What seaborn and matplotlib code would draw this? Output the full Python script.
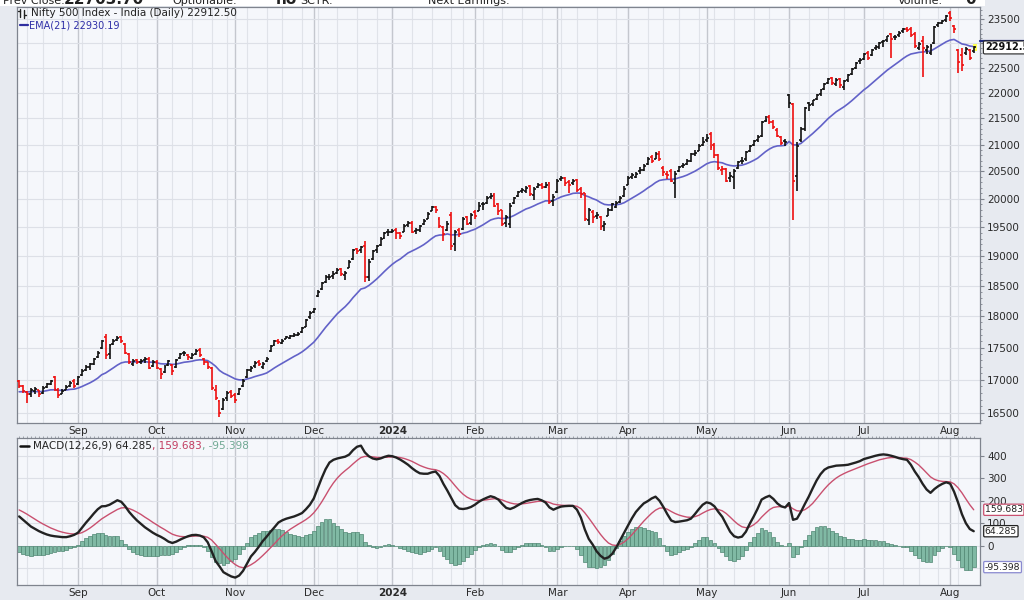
import numpy as np
import pandas as pd
import matplotlib
matplotlib.use("Agg")
import matplotlib.pyplot as plt
import matplotlib.transforms as mtransforms
from matplotlib.patches import Rectangle
from matplotlib.lines import Line2D
from matplotlib.ticker import FixedLocator, NullFormatter, FixedFormatter
import seaborn as sns

# ---------------- data ----------------
holidays = ["2023-08-15", "2023-09-19", "2023-10-02", "2023-10-24", "2023-11-14",
            "2023-11-27", "2023-12-25", "2024-01-22", "2024-01-26", "2024-03-08",
            "2024-03-25", "2024-03-29", "2024-04-11", "2024-04-17", "2024-05-01",
            "2024-05-20", "2024-06-17", "2024-07-17"]

opens = [
16990,16910,16820,16780,16830,16840,16800,16890,16940,17040,
16850,16790,16850,16900,16980,16940,17070,17150,17200,17250,
17350,17500,17660,17400,17560,17620,17660,17560,17400,17250,
17300,17280,17300,17330,17220,17280,17170,17120,17230,17230,
17200,17340,17410,17380,17340,17400,17470,17320,17270,17190,
16850,16680,16560,16720,16820,16770,16780,16900,17040,17150,
17210,17280,17200,17290,17440,17540,17610,17580,17640,17650,
17690,17700,17740,17830,17980,18070,18330,18450,18570,18640,
18660,18720,18780,18680,18800,18950,19120,19100,19180,18650,
18950,19100,19190,19310,19420,19420,19450,19400,19420,19540,
19580,19430,19450,19550,19650,19790,19860,19650,19500,19450,
19720,19200,19450,19460,19680,19570,19760,19790,19900,19930,
20040,20070,19900,19800,19580,19560,19920,20050,20150,20150,
20230,20070,20210,20260,20220,20280,19960,20120,20360,20380,
20300,20280,20340,20180,20100,19620,19760,19700,19680,19520,
19700,19810,19850,19940,20050,20260,20400,20400,20500,20530,
20640,20760,20730,20830,20560,20460,20500,20280,20500,20600,
20640,20700,20830,20880,21000,21080,21200,21000,20800,20520,
20550,20380,20400,20560,20700,20720,20880,21000,21080,21170,
21440,21530,21430,21280,21150,21060,21950,21780,20420,21080,
21300,21800,21780,21880,21980,22080,22200,22300,22180,22280,
22120,22250,22380,22500,22640,22680,22800,22760,22900,22930,
23020,23060,23200,23120,23170,23260,23300,23300,23200,22900,
23050,22850,22800,23000,23380,23430,23480,23640,23350,22850,
22760,22800,22860,22840]

highs = [
17005,16930,16830,16870,16890,16850,16900,16960,17000,17060,
16880,16860,16920,16980,17010,17060,17160,17230,17260,17340,
17440,17620,17720,17560,17640,17680,17680,17570,17420,17320,
17330,17320,17350,17350,17300,17300,17190,17230,17310,17240,
17320,17420,17440,17400,17410,17480,17490,17340,17280,17200,
16920,16700,16720,16830,16850,16800,16880,17010,17170,17210,
17290,17300,17270,17350,17540,17620,17640,17630,17690,17700,
17730,17740,17830,17960,18090,18140,18430,18570,18680,18700,
18740,18790,18800,18740,18930,19120,19140,19180,19260,18950,
19100,19190,19320,19420,19460,19470,19480,19420,19550,19610,
19600,19480,19540,19640,19760,19880,19880,19670,19520,19600,
19760,19450,19490,19680,19700,19750,19800,19950,19950,20050,
20110,20100,19920,19810,19720,19920,20040,20150,20200,20230,
20260,20210,20290,20290,20300,20310,20080,20360,20420,20400,
20340,20360,20360,20220,20110,19830,19800,19760,19690,19600,
19830,19930,19960,20060,20230,20420,20470,20480,20580,20640,
20760,20800,20860,20870,20600,20500,20540,20500,20600,20660,
20730,20850,20900,21010,21150,21200,21240,21030,20820,20600,
20560,20480,20540,20700,20760,20880,21000,21090,21180,21450,
21540,21560,21460,21310,21170,21110,21970,21800,21050,21330,
21720,21820,21860,21980,22080,22190,22300,22320,22290,22300,
22250,22380,22500,22620,22700,22800,22830,22880,22960,23020,
23060,23150,23220,23180,23250,23320,23330,23330,23230,23020,
23150,22960,22980,23350,23450,23490,23580,23680,23380,22880,
22900,22930,22890,22950]

lows = [
16870,16800,16650,16740,16790,16740,16790,16880,16920,16830,
16720,16780,16840,16890,16880,16920,17060,17130,17150,17230,
17340,17480,17330,17330,17540,17600,17570,17400,17250,17220,
17240,17250,17260,17170,17200,17160,17010,17110,17210,17080,
17190,17330,17370,17310,17320,17390,17360,17230,17170,16850,
16700,16450,16550,16680,16720,16650,16770,16890,17030,17120,
17190,17220,17170,17280,17430,17520,17560,17560,17630,17630,
17670,17690,17730,17820,17960,18050,18320,18430,18550,18600,
18620,18700,18660,18600,18790,18940,19030,19060,18570,18580,
18940,19060,19170,19290,19350,19390,19300,19290,19410,19510,
19400,19380,19420,19530,19640,19780,19740,19490,19250,19430,
19100,19080,19330,19450,19530,19540,19640,19780,19800,19900,
19990,19850,19720,19520,19500,19480,19910,20040,20100,20100,
20050,19980,20200,20180,20190,19910,19880,20100,20320,20240,
20100,20260,20130,20020,19600,19530,19580,19640,19450,19440,
19690,19790,19830,19930,20040,20250,20360,20380,20460,20510,
20620,20660,20720,20700,20420,20360,20300,20020,20480,20570,
20620,20680,20790,20870,20970,21050,20900,20750,20520,20430,
20300,20300,20180,20540,20640,20700,20860,20980,21040,21150,
21420,21390,21300,21140,20990,20980,21700,19630,20150,21050,
21250,21650,21740,21850,21940,22060,22180,22150,22130,22100,
22050,22220,22350,22480,22580,22650,22650,22740,22870,22880,
22920,23030,22700,23060,23120,23220,23240,23120,22900,22850,
22320,22780,22760,22980,23330,23390,23450,23470,23220,22400,
22430,22760,22650,22800]

closes = [
16900,16830,16790,16850,16860,16780,16880,16940,16980,16860,
16770,16830,16890,16960,16900,17040,17140,17200,17240,17320,
17420,17600,17380,17540,17600,17650,17600,17420,17280,17290,
17270,17290,17320,17190,17270,17180,17090,17200,17290,17130,
17300,17400,17410,17350,17380,17450,17380,17280,17200,16870,
16730,16500,16690,16800,16750,16700,16860,16990,17150,17190,
17260,17240,17250,17320,17520,17600,17590,17610,17660,17680,
17700,17720,17810,17940,18060,18120,18400,18540,18640,18650,
18700,18760,18690,18720,18900,19100,19080,19150,18640,18900,
19080,19170,19300,19400,19420,19440,19400,19350,19520,19570,
19420,19450,19520,19600,19730,19850,19800,19520,19380,19560,
19180,19420,19380,19650,19560,19720,19700,19880,19900,20020,
20060,19880,19790,19560,19680,19880,20010,20120,20160,20200,
20080,20180,20250,20220,20260,19950,20030,20330,20380,20280,
20260,20330,20160,20080,19640,19800,19680,19720,19500,19560,
19800,19900,19920,20020,20180,20380,20440,20450,20530,20600,
20720,20700,20830,20720,20480,20440,20330,20460,20580,20620,
20700,20820,20850,20980,21050,21120,20960,20800,20560,20550,
20330,20420,20510,20680,20700,20860,20980,21060,21150,21420,
21470,21420,21330,21170,21020,21050,21800,20330,20980,21300,
21700,21760,21850,21960,22060,22170,22280,22200,22260,22160,
22230,22360,22480,22600,22650,22770,22690,22860,22930,23000,
23040,23140,23080,23120,23220,23290,23270,23180,22950,22980,
22900,22920,22950,23330,23420,23470,23560,23520,23290,22620,
22560,22880,22703.7,22912.5]

ema21 = [
16820,16821,16818,16821,16825,16821,16826,16836,16849,16850,
16843,16842,16846,16856,16860,16876,16900,16927,16955,16988,
17027,17079,17106,17145,17186,17228,17262,17276,17276,17277,
17276,17277,17281,17273,17273,17265,17249,17245,17249,17238,
17244,17258,17272,17279,17288,17303,17310,17307,17297,17258,
17210,17145,17104,17076,17046,17015,17001,17000,17014,17030,
17051,17068,17085,17106,17144,17185,17222,17257,17294,17329,
17363,17395,17433,17479,17532,17585,17659,17739,17821,17896,
17969,18041,18100,18156,18224,18304,18375,18445,18463,18503,
18555,18611,18674,18740,18802,18860,18909,18949,19001,19053,
19086,19119,19155,19195,19244,19299,19345,19361,19363,19381,
19363,19368,19369,19395,19410,19438,19462,19500,19536,19580,
19624,19647,19660,19651,19654,19675,19705,19743,19781,19819,
19843,19874,19908,19936,19965,19964,19970,20003,20037,20059,
20077,20100,20105,20103,20061,20037,20005,19979,19935,19901,
19892,19893,19895,19906,19931,19972,20015,20055,20098,20144,
20196,20242,20295,20334,20347,20355,20353,20363,20383,20405,
20432,20467,20502,20545,20591,20639,20668,20680,20669,20658,
20628,20609,20600,20607,20615,20637,20668,20704,20745,20806,
20866,20916,20954,20974,20978,20985,21059,20993,20992,21020,
21082,21144,21208,21276,21347,21422,21500,21564,21627,21675,
21725,21783,21846,21915,21982,22054,22112,22180,22248,22316,
22382,22451,22508,22564,22624,22685,22738,22778,22794,22811,
22819,22828,22839,22884,22933,22982,23030,23065,23078,23032,
22985,22970,22942,22930.19]

macd_line = [
130,115,100,85,75,65,57,50,45,42,
40,38,38,42,48,58,80,102,122,143,
162,175,176,182,192,202,195,175,150,130,
112,97,82,70,58,48,40,30,18,12,
18,27,35,42,47,48,45,37,15,-25,
-68,-92,-118,-128,-137,-142,-133,-112,-80,-48,
-28,-5,20,40,62,82,103,113,120,125,
130,137,145,162,182,210,255,300,340,370,
382,388,392,396,405,425,440,445,415,398,
388,384,388,395,400,398,392,383,372,360,
345,332,322,320,320,326,330,310,275,245,
212,180,165,163,166,172,182,195,205,213,
220,215,205,185,168,163,170,180,190,198,
203,206,208,202,192,170,160,168,174,176,
177,177,160,125,72,30,5,-25,-45,-58,
-52,-36,-8,25,58,90,122,150,170,188,
198,210,218,200,172,140,112,105,107,110,
113,120,140,162,182,193,188,175,150,128,
95,62,42,36,40,62,98,130,165,205,
215,222,208,188,175,170,190,115,120,150,
185,218,255,290,318,338,348,352,356,357,
358,360,365,370,376,385,390,395,400,404,
406,404,400,395,389,385,382,360,330,305,
275,250,235,252,265,275,282,276,240,193,
140,100,74,64.285]

signal_line = [
159,150,140,129,118,107,97,88,79,72,
65,60,56,53,52,53,58,67,78,91,
105,119,130,141,151,161,168,169,165,158,
149,139,127,116,104,93,82,72,61,51,
45,41,40,40,42,43,44,42,37,25,
6,-13,-34,-53,-70,-84,-94,-98,-94,-85,
-74,-60,-44,-27,-9,9,28,45,60,73,
84,95,105,116,129,146,168,194,223,253,
279,301,319,334,348,364,379,392,397,397,
395,393,392,393,394,395,394,392,388,382,
375,366,357,350,344,340,338,332,321,306,
287,266,246,229,216,207,202,201,202,204,
207,209,208,203,196,190,186,185,186,188,
191,194,197,198,197,192,185,182,180,179,
179,178,175,165,146,123,99,74,50,29,
12,3,1,6,16,31,49,69,89,109,
127,144,158,167,168,162,152,143,136,131,
127,126,129,135,145,154,161,164,161,155,
143,127,110,95,84,80,83,93,107,127,
144,160,170,173,174,173,176,164,155,154,
160,172,188,209,231,252,271,287,301,312,
321,329,336,343,350,357,364,370,376,382,
386,390,392,392,392,390,389,383,372,359,
342,324,306,295,289,286,285,284,275,258,
235,208,182,159.683]

price_ticks = [16500, 17000, 17500, 18000, 18500, 19000, 19500, 20000,
               20500, 21000, 21500, 22000, 22500, 23000, 23500]
# the 23000 label is hidden behind the last-price tag in the reference
price_labels = ["" if p == 23000 else str(p) for p in price_ticks]
macd_ticks = [0, 100, 200, 300, 400]
macd_grid = [-100, 0, 100, 200, 300, 400]

# ---------------- derived positions ----------------
dates = pd.bdate_range("2023-08-10", "2024-08-09")
dates = dates[~dates.isin(pd.to_datetime(holidays))]
n = len(closes)
x = np.arange(n)
months = dates.to_period("M")
month_starts = [i for i in range(1, n) if months[i] != months[i - 1]]
month_labels = ["2024" if dates[i].month == 1 else dates[i].strftime("%b") for i in month_starts]
monday = dates.normalize() - pd.to_timedelta(dates.weekday, unit="D")
week_starts = [i for i in range(1, n) if monday[i] != monday[i - 1]]

c = np.array(closes, dtype=float)
up = np.r_[False, c[1:] >= c[:-1]]
bar_cols = np.where(up, "#111111", "#ee1010")
hist = np.array(macd_line) - np.array(signal_line)

# ---------------- figure ----------------
sns.set_theme(style="white")
plt.rcParams["font.family"] = ["DejaVu Sans"]

W, H = 1024, 600
fig = plt.figure(figsize=(W / 100, H / 100), dpi=100, facecolor="#e7eaf0")


def rect(l, t, r, b):
    return [l / W, 1 - b / H, (r - l) / W, (b - t) / H]


ax = fig.add_axes(rect(17, 7, 980, 423))
ax2 = fig.add_axes(rect(17, 438, 980, 585))

spine_col = "#7f848e"
txt_col = "#2a2a2a"

# header strip (cut off at the top, as in the reference)
fig.patches.append(Rectangle((0, 1 - 6 / H), 985 / W, 6 / H, transform=fig.transFigure,
                             fc="white", ec="none", zorder=0))
hdr = [(3, "Prev Close:", 8, "normal"), (64, "22703.70", 11, "bold"),
       (172, "Optionable:", 8, "normal"), (276, "no", 11, "bold"),
       (300, "SCTR:", 8, "normal"), (428, "Next Earnings:", 8, "normal"),
       (898, "Volume:", 8, "normal"), (965, "0", 11, "bold")]
for px_, s, fs, fw in hdr:
    fig.text(px_ / W, 1 - 4 / H, s, fontsize=fs, fontweight=fw, color="#222",
             va="baseline", ha="left")

# ---------------- price panel ----------------
ax.set_facecolor("#f5f7fb")
ax.set_yscale("log")
for i in week_starts:
    ax.axvline(i, color="#e0e3e9", lw=0.8, zorder=0)
for i in month_starts:
    ax.axvline(i, color="#c4c7ce", lw=1.0, zorder=0)
for p in price_ticks:
    ax.axhline(p, color="#dde0e7", lw=0.8, zorder=0)

ax.vlines(x, lows, highs, colors=bar_cols, lw=1.2, zorder=3)
ax.hlines(opens, x - 0.5, x, colors=bar_cols, lw=1.2, zorder=3)
ax.hlines(closes, x, x + 0.5, colors=bar_cols, lw=1.2, zorder=3)
ax.add_patch(Rectangle((n - 1.3, 22835), 1.1, 150, fc="#ffff55", ec="none", zorder=2.5))
sns.lineplot(x=x, y=ema21, ax=ax, color="#6262c8", lw=1.2, zorder=2)

ax.set_xlim(-0.55, 244.6)
ax.set_ylim(16355, 23760)
ax.yaxis.tick_right()
ax.yaxis.set_major_locator(FixedLocator(price_ticks))
ax.yaxis.set_major_formatter(FixedFormatter(price_labels))
ax.yaxis.set_minor_locator(FixedLocator(np.arange(16400, 23800, 100)))
ax.yaxis.set_minor_formatter(NullFormatter())
ax.tick_params(axis="y", which="major", length=3, width=0.8, pad=2, labelsize=7.5,
               colors=spine_col, labelcolor=txt_col)
ax.tick_params(axis="y", which="minor", length=1.5, width=0.6, colors=spine_col)
ax.set_xticks(month_starts)
ax.set_xticklabels(month_labels)
ax.set_xticks(x, minor=True)
ax.tick_params(axis="x", which="major", length=0, pad=2.5, labelsize=7.5, labelcolor=txt_col)
ax.tick_params(axis="x", which="minor", length=1.5, width=0.5, colors=spine_col)
ax.set_xlabel("")
ax.set_ylabel("")
for sp in ax.spines.values():
    sp.set_color(spine_col)
    sp.set_linewidth(0.9)

trans = mtransforms.blended_transform_factory(ax.transAxes, ax.transData)
ax.plot([1.0, 1.05], [23050, 23050], transform=trans, color="#1f2a80", lw=1.6,
        clip_on=False, zorder=4)
ax.text(1.005, closes[-1], "22912.50", transform=trans, fontsize=7, fontweight="bold",
        va="center", ha="left", color="#111", clip_on=False, zorder=5,
        bbox=dict(boxstyle="round,pad=0.15", fc="white", ec="#222", lw=0.8))

# price legend
fig.add_artist(Line2D([20 / W, 20 / W], [1 - 9 / H, 1 - 17 / H], color="#222", lw=1))
fig.add_artist(Line2D([24 / W, 24 / W], [1 - 10 / H, 1 - 18 / H], color="#222", lw=1))
fig.add_artist(Line2D([18 / W, 20 / W], [1 - 11 / H, 1 - 11 / H], color="#222", lw=1))
fig.add_artist(Line2D([24 / W, 26 / W], [1 - 15 / H, 1 - 15 / H], color="#222", lw=1))
fig.text(31 / W, 1 - 13 / H, "Nifty 500 Index - India (Daily) 22912.50", fontsize=7.5,
         color="#222", va="center", ha="left")
fig.add_artist(Line2D([20 / W, 28 / W], [1 - 25 / H, 1 - 25 / H], color="#2f2fa0", lw=1.6))
fig.text(29 / W, 1 - 25 / H, "EMA(21) 22930.19", fontsize=7, color="#2f2fa8",
         va="center", ha="left")

# ---------------- MACD panel ----------------
ax2.set_facecolor("#f5f7fb")
for i in week_starts:
    ax2.axvline(i, color="#e0e3e9", lw=0.8, zorder=0)
for i in month_starts:
    ax2.axvline(i, color="#c4c7ce", lw=1.0, zorder=0)
for v in macd_grid:
    ax2.axhline(v, color="#dde0e7", lw=0.8, zorder=0)

ax2.bar(x, hist, width=0.95, color="#80b9a4", edgecolor="#4f8672", lw=0.5, zorder=2)
sns.lineplot(x=x, y=signal_line, ax=ax2, color="#c9506f", lw=1.0, zorder=3)
sns.lineplot(x=x, y=macd_line, ax=ax2, color="#222222", lw=1.7, zorder=4)

ax2.set_xlim(-0.55, 244.6)
ax2.set_ylim(-175, 479)
ax2.yaxis.tick_right()
ax2.set_yticks(macd_ticks)
ax2.set_yticklabels([str(v) for v in macd_ticks])
ax2.tick_params(axis="y", length=3, width=0.8, pad=2, labelsize=7.5, colors=spine_col,
                labelcolor=txt_col)
ax2.set_xticks(month_starts)
ax2.set_xticklabels(month_labels)
ax2.set_xticks(x, minor=True)
ax2.tick_params(axis="x", which="major", length=0, pad=2.5, labelsize=7.5, labelcolor=txt_col)
ax2.tick_params(axis="x", which="minor", length=1.5, width=0.5, colors=spine_col, top=True)
ax2.set_xlabel("")
ax2.set_ylabel("")
for sp in ax2.spines.values():
    sp.set_color(spine_col)
    sp.set_linewidth(0.9)

for a in (ax, ax2):
    for lab in a.get_xticklabels():
        if lab.get_text() == "2024":
            lab.set_fontweight("bold")

trans2 = mtransforms.blended_transform_factory(ax2.transAxes, ax2.transData)
for val, s, ec in [(signal_line[-1], "159.683", "#c9506f"),
                   (macd_line[-1], "64.285", "#222222"),
                   (hist[-1], "-95.398", "#8a8ad0")]:
    ax2.text(1.005, val, s, transform=trans2, fontsize=6.7, va="center", ha="left",
             color="#222", clip_on=False, zorder=5,
             bbox=dict(boxstyle="round,pad=0.12", fc="white", ec=ec, lw=0.9))

# MACD legend
fig.add_artist(Line2D([20 / W, 29 / W], [1 - 446 / H, 1 - 446 / H], color="#111", lw=1.8))
fig.canvas.draw()
renderer = fig.canvas.get_renderer()
xpos = 33
for s, col in [("MACD(12,26,9) 64.285", "#222222"), (", 159.683", "#c23b5f"),
               (", -95.398", "#6fa893")]:
    t = fig.text(xpos / W, 1 - 446 / H, s, fontsize=7.5, color=col, va="center", ha="left")
    bb = t.get_window_extent(renderer=renderer)
    xpos = bb.x1

fig.savefig("out.png", dpi=100, facecolor=fig.get_facecolor())
